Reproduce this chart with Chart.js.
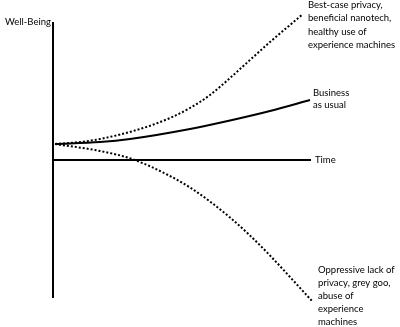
<!DOCTYPE html>
<html>
<head>
<meta charset="utf-8">
<script src="https://cdn.jsdelivr.net/npm/chart.js@4.4.0/dist/chart.umd.min.js"></script>
<style>
  html, body { margin: 0; padding: 0; background: #fff; }
  canvas { display: block; }
</style>
</head>
<body>
<canvas id="c" width="400" height="327"></canvas>
<script>
// Time (x) and well-being (y) readings for each scenario curve
const bestX = [2, 27, 47, 87, 117, 137, 157, 177, 197, 217, 237, 250];
const bestY = [16, 18, 21, 31, 42, 52, 65, 82, 100, 118, 135, 146];
const usualX = [2, 47, 77, 137, 177, 217, 257];
const usualY = [16, 18, 21, 31, 39.5, 49, 60];
const worstX = [2, 47, 79, 117, 137, 157, 177, 197, 217, 237, 259];
const worstY = [16, 9, 1, -16, -27.5, -41.5, -57.5, -75.5, -95.5, -117, -141];
// Axes extents
const timeAxisX = [0, 258];
const wellBeingAxisY = [-138, 138];

const labelBest = ["Best-case privacy,", "beneficial nanotech,", "healthy use of", "experience machines"];
const labelUsual = ["Business", "as usual"];
const labelWorst = ["Oppressive lack of", "privacy, grey goo,", "abuse of", "experience", "machines"];
const labelTime = "Time";
const labelWell = "Well-Being";

const pts = (xs, ys) => xs.map((x, i) => ({ x, y: ys[i] }));

const textPlugin = {
  id: 'texts',
  afterDraw(chart) {
    const ctx = chart.ctx;
    ctx.save();
    ctx.fillStyle = '#000';
    ctx.font = '9.5px Lato';
    ctx.textBaseline = 'middle';
    ctx.textAlign = 'left';
    const block = (lines, x, y0, lh) => lines.forEach((l, i) => ctx.fillText(l, x, y0 + i * lh));
    ctx.fillText(labelWell, 5, 22);
    block(labelBest, 308, 5, 13.3);
    block(labelUsual, 313, 93, 11.7);
    ctx.fillText(labelTime, 315, 160);
    block(labelWorst, 318, 270, 13);
    ctx.restore();
  }
};

new Chart(document.getElementById('c'), {
  type: 'scatter',
  data: {
    datasets: [
      { data: pts([0, 0], wellBeingAxisY), borderColor: '#000', borderWidth: 2 },
      { data: pts(timeAxisX, [0, 0]), borderColor: '#000', borderWidth: 2 },
      { data: pts(bestX, bestY), borderColor: '#000', borderWidth: 2, borderDash: [2, 2], tension: 0.4, cubicInterpolationMode: 'monotone' },
      { data: pts(usualX, usualY), borderColor: '#000', borderWidth: 2, tension: 0.4, cubicInterpolationMode: 'monotone' },
      { data: pts(worstX, worstY), borderColor: '#000', borderWidth: 2, borderDash: [2, 2], tension: 0.4, cubicInterpolationMode: 'monotone' }
    ].map(d => Object.assign({ showLine: true, pointRadius: 0, clip: false, fill: false }, d))
  },
  options: {
    responsive: false,
    animation: false,
    layout: { padding: { left: 53, right: 87, top: 10, bottom: 17 } },
    plugins: { legend: { display: false }, tooltip: { enabled: false } },
    scales: {
      x: { type: 'linear', min: 0, max: 260, display: false },
      y: { type: 'linear', min: -150, max: 150, display: false }
    }
  },
  plugins: [textPlugin]
});
</script>
</body>
</html>
